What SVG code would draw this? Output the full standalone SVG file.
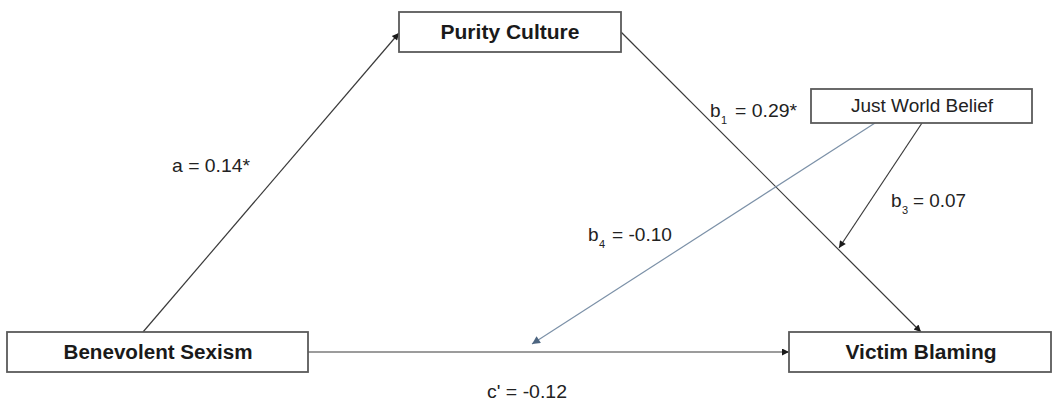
<svg xmlns="http://www.w3.org/2000/svg" width="1054" height="404" viewBox="0 0 1054 404">
<style>
.box{fill:#ffffff;stroke:#5a5a5a;stroke-width:1.8}
.bold{font-family:"Liberation Sans",Arial,sans-serif;font-weight:bold;font-size:20px;fill:#1a1a1a;text-anchor:middle}
.reg{font-family:"Liberation Sans",Arial,sans-serif;font-size:18px;fill:#222222;text-anchor:middle}
.lbl{font-family:"Liberation Sans",Arial,sans-serif;font-size:19px;fill:#222222}
.sub{font-size:11px}
.ln{stroke:#3a3a3a;stroke-width:1.2;fill:none}
.lnb{stroke:#7c91a8;stroke-width:1.2;fill:none}
</style>
<defs>
<marker id="ah" viewBox="0 0 10 10" refX="10" refY="5" markerWidth="10" markerHeight="7" markerUnits="userSpaceOnUse" orient="auto">
<path d="M0,0 L10,5 L0,10 z" fill="#1a1a1a"/>
</marker>
<marker id="ahb" viewBox="0 0 10 10" refX="10" refY="5" markerWidth="11" markerHeight="8" markerUnits="userSpaceOnUse" orient="auto">
<path d="M0,0 L10,5 L0,10 z" fill="#4d6580"/>
</marker>
</defs>
<g id="connectors">
<line class="ln" x1="143" y1="332" x2="399" y2="33" marker-end="url(#ah)"/>
<line class="ln" x1="308" y1="352" x2="789" y2="352" marker-end="url(#ah)"/>
<line class="ln" x1="621" y1="32" x2="921" y2="332" marker-end="url(#ah)"/>
<line class="ln" x1="922" y1="123" x2="839" y2="248" marker-end="url(#ah)"/>
<line class="lnb" x1="875" y1="123" x2="532" y2="344" marker-end="url(#ahb)"/>
</g>
<g id="labels">
<text class="lbl" x="172" y="172" textLength="78" lengthAdjust="spacingAndGlyphs">a = 0.14*</text>
<text class="lbl" x="710" y="117">b<tspan class="sub" x="721" y="124">1</tspan><tspan x="735" y="117" textLength="62" lengthAdjust="spacingAndGlyphs">= 0.29*</tspan></text>
<text class="lbl" x="891" y="207">b<tspan class="sub" x="902" y="214">3</tspan><tspan x="913" y="207" textLength="53" lengthAdjust="spacingAndGlyphs">= 0.07</tspan></text>
<text class="lbl" x="588" y="241">b<tspan class="sub" x="599" y="248">4</tspan><tspan x="612" y="241" textLength="60" lengthAdjust="spacingAndGlyphs">= -0.10</tspan></text>
<text class="lbl" x="487" y="398" textLength="80" lengthAdjust="spacingAndGlyphs">c' = -0.12</text>
</g>
<g id="node-purity">
<rect class="box" x="399" y="12" width="222" height="40"/>
<text class="bold" x="510" y="39" textLength="139" lengthAdjust="spacingAndGlyphs">Purity Culture</text>
</g>
<g id="node-benevolent">
<rect class="box" x="7" y="332" width="301" height="40"/>
<text class="bold" x="158" y="359" textLength="189" lengthAdjust="spacingAndGlyphs">Benevolent Sexism</text>
</g>
<g id="node-victim">
<rect class="box" x="789" y="332" width="262" height="40"/>
<text class="bold" x="921" y="359" textLength="151" lengthAdjust="spacingAndGlyphs">Victim Blaming</text>
</g>
<g id="node-jwb">
<rect class="box" x="811" y="89" width="221" height="34"/>
<text class="reg" x="922" y="112" textLength="142" lengthAdjust="spacingAndGlyphs">Just World Belief</text>
</g>
</svg>
